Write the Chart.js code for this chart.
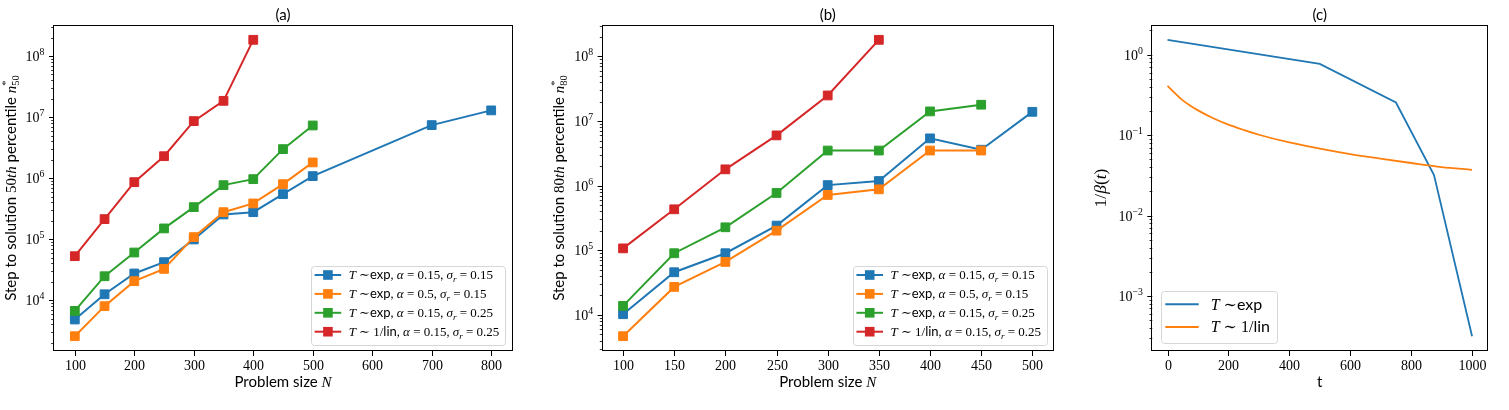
<!DOCTYPE html>
<html>

<head>
	<meta charset="UTF-8">
	<script src="https://cdn.jsdelivr.net/npm/chart.js@4.4.0/dist/chart.umd.min.js"></script>
	<style>
		body { margin: 0; background: #fff; }
		canvas { position: absolute; top: 0; }
	</style>
</head>

<body>
	<canvas id="chartA" width="530" height="410" style="left: 0px;"></canvas>
	<canvas id="chartB" width="530" height="410" style="left: 530px;"></canvas>
	<canvas id="chartC" width="449" height="410" style="left: 1060px;"></canvas>

	<script>
		var colors = ['#1f77b4', '#ff7f0e', '#2ca02c', '#d62728'];

		// (a) 50th percentile
		var sizesA = [100, 150, 200, 250, 300, 350, 400, 450, 500, 700, 800];
		var n50ExpA015S015 = [4820, 12500, 27400, 42000, 98900, 254000, 277000, 547000, 1080000, 7400000, 12900000];
		var n50ExpA05S015 = [2570, 7980, 20500, 32600, 108000, 277000, 385000, 798000, 1810000];
		var n50ExpA015S025 = [6680, 24700, 60400, 150000, 335000, 768000, 963000, 2990000, 7300000];
		var n50LinA015S025 = [52600, 213000, 860000, 2290000, 8600000, 18500000, 185000000];

		// (b) 80th percentile
		var sizesB = [100, 150, 200, 250, 300, 350, 400, 450, 500];
		var n80ExpA015S015 = [10240, 45700, 90000, 241000, 1020000, 1180000, 5400000, 3600000, 13900000];
		var n80ExpA05S015 = [4680, 27100, 66000, 201000, 718000, 878000, 3500000, 3500000];
		var n80ExpA015S025 = [13800, 90000, 227000, 771000, 3500000, 3500000, 14100000, 17900000];
		var n80LinA015S025 = [107000, 431000, 1790000, 6000000, 24900000, 181000000];

		// (c) 1/beta(t)
		var tExp = [0, 500, 750, 875, 1000];
		var invBetaExp = [1.53, 0.766, 0.254, 0.0319, 0.000316];
		var tLin = [0, 25, 50, 75, 100, 150, 200, 250, 300, 400, 500, 600, 700, 800, 900, 1000];
		var invBetaLin = [0.41, 0.33, 0.27, 0.232, 0.203, 0.162, 0.135, 0.116, 0.101, 0.081, 0.068, 0.058, 0.051, 0.045, 0.040, 0.037];

		// ticks
		var xTicksA = [100, 200, 300, 400, 500, 600, 700, 800];
		var xTicksB = [100, 150, 200, 250, 300, 350, 400, 450, 500];
		var xTicksC = [0, 200, 400, 600, 800, 1000];

		// legend
		var legendKinds = ['exp', 'exp', 'exp', '1/lin'];
		var legendAlpha = ['0.15', '0.5', '0.15', '0.15'];
		var legendSigma = ['0.15', '0.15', '0.25', '0.25'];
		var legendKindsC = ['exp', '1/lin'];

		var SERIF = '"Liberation Serif", "DejaVu Serif", serif';
		var SANS = 'Lato, "DejaVu Sans", sans-serif';

		function fontOf(st, size) {
			if (st === 'rm') return size + 'px ' + SERIF;
			if (st === 'it') return 'italic ' + size + 'px ' + SERIF;
			if (st === 'sf') return size + 'px ' + SANS;
			if (st === 'sup' || st === 'sub') return (size * 0.7) + 'px ' + SERIF;
			return 'italic ' + (size * 0.7) + 'px ' + SERIF;
		}

		function shiftOf(st, size) {
			if (st === 'sup' || st === 'supit') return -0.42 * size;
			if (st === 'sub' || st === 'subit') return 0.22 * size;
			return 0;
		}

		function richWidth(ctx, segs, size) {
			var w = 0;
			segs.forEach(function (s) {
				ctx.font = fontOf(s[1], size);
				if (!s[2]) w += ctx.measureText(s[0]).width;
			});
			return w;
		}

		function drawRich(ctx, segs, x, y, size, align) {
			var w = richWidth(ctx, segs, size);
			var cx = align === 'center' ? x - w / 2 : (align === 'right' ? x - w : x);
			ctx.textAlign = 'left';
			ctx.textBaseline = 'alphabetic';
			segs.forEach(function (s) {
				ctx.font = fontOf(s[1], size);
				ctx.fillText(s[0], cx, y + shiftOf(s[1], size));
				if (!s[2]) cx += ctx.measureText(s[0]).width;
			});
			return w;
		}

		function legendSegs(kind, a, s) {
			var head = kind === 'exp'
				? [['T', 'it'], [' \u223C', 'rm'], ['exp', 'sf']]
				: [['T', 'it'], [' \u223C 1/', 'rm'], ['lin', 'sf']];
			if (a === undefined) return head;
			return head.concat([[', ', 'sf'], ['\u03B1', 'it'], [' = ', 'rm'], [a, 'rm'], [', ', 'sf'],
				['\u03C3', 'it'], ['r', 'subit'], [' = ', 'rm'], [s, 'rm']]);
		}

		function pts(xs, ys) {
			return ys.map(function (y, i) { return { x: xs[i], y: y }; });
		}

		function padRange(lo, hi) {
			var d = (hi - lo) * 0.05;
			return [lo - d, hi + d];
		}

		function logRange(arrs) {
			var all = [].concat.apply([], arrs);
			var r = padRange(Math.log10(Math.min.apply(null, all)), Math.log10(Math.max.apply(null, all)));
			return [Math.pow(10, r[0]), Math.pow(10, r[1])];
		}

		function markerSet(xs, ys, i) {
			return {
				data: pts(xs, ys),
				borderColor: colors[i],
				backgroundColor: colors[i],
				borderWidth: 2,
				pointStyle: 'rect',
				pointRadius: 6.2,
				pointBorderWidth: 1,
				pointBackgroundColor: colors[i],
				pointBorderColor: colors[i],
				order: 10 - i
			};
		}

		var decoPlugin = {
			id: 'deco',
			afterDraw: function (chart, args, o) {
				var ctx = chart.ctx, a = chart.chartArea;
				var xs = chart.scales.x, ys = chart.scales.y;
				ctx.save();
				ctx.fillStyle = '#000';
				ctx.strokeStyle = '#000';

				// x ticks
				o.xTicks.forEach(function (v) {
					var px = Math.round(xs.getPixelForValue(v)) + 0.5;
					ctx.lineWidth = 1;
					ctx.beginPath();
					ctx.moveTo(px, a.bottom);
					ctx.lineTo(px, a.bottom + 5);
					ctx.stroke();
					drawRich(ctx, [[String(v), 'rm']], px, a.bottom + 18.5, 14, 'center');
				});

				// y ticks (log)
				var lo = Math.log10(ys.min), hi = Math.log10(ys.max);
				for (var d = Math.floor(lo); d <= Math.ceil(hi); d++) {
					for (var k = 1; k <= 9; k++) {
						var v = k * Math.pow(10, d);
						var lv = Math.log10(v);
						if (lv < lo || lv > hi) continue;
						var py = Math.round(ys.getPixelForValue(v)) + 0.5;
						ctx.lineWidth = k === 1 ? 1 : 0.8;
						ctx.beginPath();
						ctx.moveTo(a.left, py);
						ctx.lineTo(a.left - (k === 1 ? 5 : 2.8), py);
						ctx.stroke();
						if (k === 1) {
							var ex = d < 0 ? '\u2212' + (-d) : String(d);
							drawRich(ctx, [['10', 'rm'], [ex, 'sup']], a.left - 9.5, py + 4.5, 14, 'right');
						}
					}
				}

				// frame
				ctx.lineWidth = 1;
				ctx.strokeRect(Math.round(a.left) - 0.5, Math.round(a.top) + 0.5,
					Math.round(a.right - a.left) + 1, Math.round(a.bottom - a.top) - 1);

				// titles
				var cx = (a.left + a.right) / 2, cy = (a.top + a.bottom) / 2;
				drawRich(ctx, [[o.title, 'sf']], cx, 19.5, 15, 'center');
				drawRich(ctx, o.xTitle, cx, 386.5, 15, 'center');
				ctx.save();
				ctx.translate(a.left - o.yTitleGap, cy);
				ctx.rotate(-Math.PI / 2);
				drawRich(ctx, o.yTitle, 0, 0, o.yTitleSize || 15, 'center');
				ctx.restore();

				// legend
				var L = o.legend;
				var maxW = 0;
				L.rows.forEach(function (r) { maxW = Math.max(maxW, richWidth(ctx, r, L.size)); });
				var bw = L.padL + L.handle + L.gap + maxW + L.padR;
				var bh = L.topOff + (L.rows.length - 1) * L.rowH + L.botOff;
				var bx = L.loc === 'right' ? a.right - L.inset - bw : a.left + L.inset;
				var by = a.bottom - L.bottomInset - bh;
				ctx.beginPath();
				ctx.roundRect(Math.round(bx) + 0.5, Math.round(by) + 0.5, Math.round(bw), Math.round(bh), 3);
				ctx.fillStyle = 'rgba(255,255,255,0.8)';
				ctx.fill();
				ctx.strokeStyle = '#d6d6d6';
				ctx.lineWidth = 1;
				ctx.stroke();
				L.rows.forEach(function (r, i) {
					var ry = by + L.topOff + i * L.rowH;
					var hx = bx + L.padL;
					ctx.strokeStyle = colors[i];
					ctx.lineWidth = 2;
					ctx.beginPath();
					ctx.moveTo(hx, ry);
					ctx.lineTo(hx + L.handle, ry);
					ctx.stroke();
					if (L.marker) {
						ctx.fillStyle = colors[i];
						ctx.fillRect(hx + L.handle / 2 - 4.8, ry - 4.8, 9.6, 9.6);
					}
					ctx.fillStyle = '#000';
					drawRich(ctx, r, hx + L.handle + L.gap, ry + L.size * 0.33, L.size, 'left');
				});
				ctx.restore();
			}
		};

		function makeChart(id, pad, xr, yr, datasets, deco) {
			return new Chart(document.getElementById(id), {
				type: 'line',
				data: { datasets: datasets },
				options: {
					responsive: false,
					animation: false,
					layout: { padding: pad },
					scales: {
						x: { type: 'linear', display: false, min: xr[0], max: xr[1] },
						y: { type: 'logarithmic', display: false, min: yr[0], max: yr[1] }
					},
					plugins: {
						legend: { display: false },
						tooltip: { enabled: false },
						deco: deco
					}
				},
				plugins: [decoPlugin]
			});
		}

		var legendRows = legendKinds.map(function (k, i) { return legendSegs(k, legendAlpha[i], legendSigma[i]); });

		// (a)
		makeChart('chartA', { left: 54, right: 18, top: 25, bottom: 59 },
			padRange(sizesA[0], sizesA[sizesA.length - 1]),
			logRange([n50ExpA015S015, n50ExpA05S015, n50ExpA015S025, n50LinA015S025]),
			[
				markerSet(sizesA, n50ExpA015S015, 0),
				markerSet(sizesA, n50ExpA05S015, 1),
				markerSet(sizesA, n50ExpA015S025, 2),
				markerSet(sizesA, n50LinA015S025, 3)
			],
			{
				title: '(a)',
				xTicks: xTicksA,
				xTitle: [['Problem size ', 'sf'], ['N', 'it']],
				yTitle: [['Step to solution ', 'sf'], ['50', 'rm'], ['th', 'it'], [' percentile ', 'sf'],
					['n', 'it'], ['*', 'sup', 1], ['50', 'sub']],
				yTitleGap: 38.3,
				legend: { rows: legendRows, size: 13, loc: 'right', inset: 7, bottomInset: 6,
					padL: 3.4, handle: 26.6, gap: 7.4, padR: 5.7, topOff: 9.3, rowH: 18.9, botOff: 13.3, marker: true }
			});

		// (b)
		makeChart('chartB', { left: 72.6, right: 1.5, top: 25, bottom: 59 },
			padRange(sizesB[0], sizesB[sizesB.length - 1]),
			logRange([n80ExpA015S015, n80ExpA05S015, n80ExpA015S025, n80LinA015S025]),
			[
				markerSet(sizesB, n80ExpA015S015, 0),
				markerSet(sizesB, n80ExpA05S015, 1),
				markerSet(sizesB, n80ExpA015S025, 2),
				markerSet(sizesB, n80LinA015S025, 3)
			],
			{
				title: '(b)',
				xTicks: xTicksB,
				xTitle: [['Problem size ', 'sf'], ['N', 'it']],
				yTitle: [['Step to solution ', 'sf'], ['80', 'rm'], ['th', 'it'], [' percentile ', 'sf'],
					['n', 'it'], ['*', 'sup', 1], ['80', 'sub']],
				yTitleGap: 38.6,
				legend: { rows: legendRows, size: 13, loc: 'right', inset: 6, bottomInset: 6,
					padL: 3.4, handle: 26.6, gap: 7.4, padR: 5.7, topOff: 9.3, rowH: 18.9, botOff: 13.3, marker: true }
			});

		// (c)
		makeChart('chartC', { left: 92.3, right: 21.7, top: 25, bottom: 59 },
			padRange(tExp[0], tExp[tExp.length - 1]),
			logRange([invBetaExp, invBetaLin]),
			[
				{ data: pts(tExp, invBetaExp), borderColor: colors[0], borderWidth: 1.8, pointRadius: 0, order: 2 },
				{ data: pts(tLin, invBetaLin), borderColor: colors[1], borderWidth: 1.8, pointRadius: 0,
					cubicInterpolationMode: 'monotone', order: 1 }
			],
			{
				title: '(c)',
				xTicks: xTicksC,
				xTitle: [['t', 'sf']],
				yTitle: [['1/', 'rm'], ['\u03B2', 'it'], ['(', 'rm'], ['t', 'it'], [')', 'rm']],
				yTitleGap: 46.8,
				yTitleSize: 17.5,
				legend: { rows: legendKindsC.map(function (k) { return legendSegs(k); }), size: 16, loc: 'left',
					inset: 8.4, bottomInset: 8, padL: 4.6, handle: 33.4, gap: 12, padR: 6.7, topOff: 13, rowH: 22.7,
					botOff: 16, marker: false }
			});
	</script>
</body>

</html>
